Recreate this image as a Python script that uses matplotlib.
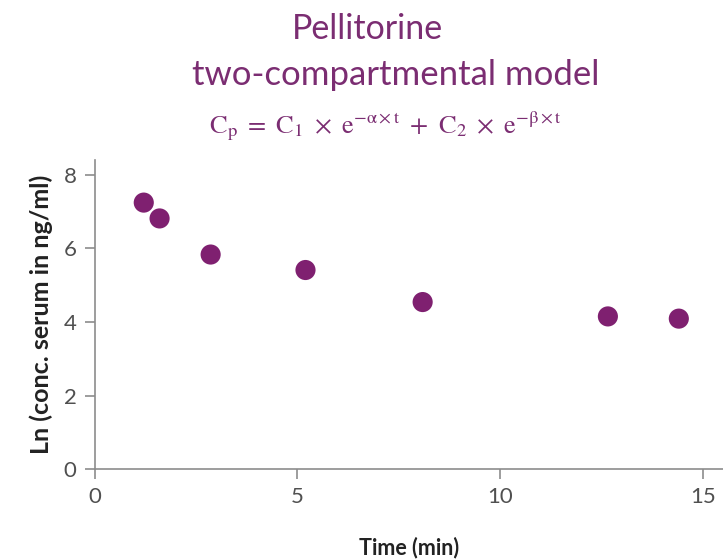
import numpy as np
import matplotlib.pyplot as plt

# data
time_min = [1.21, 1.60, 2.86, 5.20, 8.09, 12.66, 14.41]
ln_conc = [7.24, 6.81, 5.83, 5.41, 4.54, 4.15, 4.09]
x_ticks = [0, 5, 10, 15]
y_ticks = [0, 2, 4, 6, 8]

purple = "#7b2d72"
marker_color = "#7f2070"
axis_gray = "#8c8c8c"

plt.rcParams['font.family'] = ['Lato', 'DejaVu Sans']
plt.rcParams['mathtext.fontset'] = 'stix'

fig = plt.figure(figsize=(7.23, 5.59), dpi=100)
ax = fig.add_axes([0.131, 0.1605, 0.869, 0.5535])

ax.scatter(time_min, ln_conc, s=210, color=marker_color, edgecolors="none", zorder=3)

ax.set_xlim(0, 15.5)
ax.set_ylim(0, 8.4)
ax.set_xticks(x_ticks)
ax.set_yticks(y_ticks)

for side in ["top", "right"]:
    ax.spines[side].set_visible(False)
for side in ["left", "bottom"]:
    ax.spines[side].set_color(axis_gray)
    ax.spines[side].set_linewidth(1.2)
ax.tick_params(colors=axis_gray, length=7, width=1.2, labelsize=16, pad=6)
for lbl in ax.get_xticklabels() + ax.get_yticklabels():
    lbl.set_color("#505050")

ax.set_xlabel("Time (min)", fontsize=15.5, fontweight="bold", color="#222222", labelpad=21)
ax.set_ylabel("Ln (conc. serum in ng/ml)", fontsize=18, fontweight="bold", color="#222222", labelpad=8)

# titles
fig.text(0.508, 0.948, "Pellitorine", ha="center", va="center", fontsize=24.5, color=purple)
fig.text(0.547, 0.865, "two-compartmental model", ha="center", va="center", fontsize=25, color=purple)
fig.text(0.533, 0.775,
         r"$\mathrm{C_p}\ =\ \mathrm{C_1}\ \times\ \mathrm{e}^{-\mathrm{\alpha}\times \mathrm{t}}\ +\ \mathrm{C_2}\ \times\ \mathrm{e}^{-\mathrm{\beta}\times \mathrm{t}}$",
         ha="center", va="center", fontsize=19, color=purple)

fig.savefig("out.png", dpi=100)
